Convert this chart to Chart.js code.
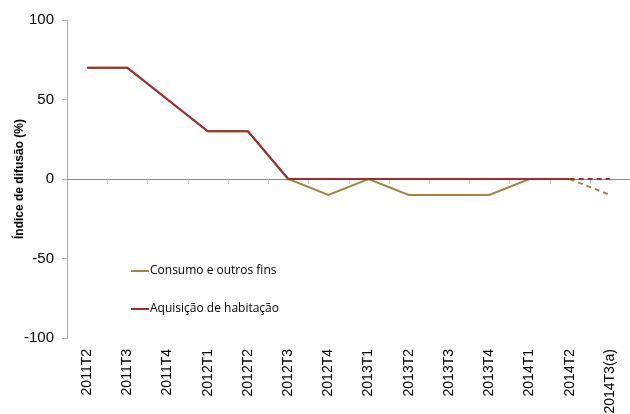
<!DOCTYPE html>
<html>
<head>
<meta charset="utf-8">
<script src="https://cdn.jsdelivr.net/npm/chart.js@4/dist/chart.umd.min.js"></script>
<style>
  html, body { margin: 0; padding: 0; background: #fff; }
  #wrap { width: 630px; height: 414px; position: relative; }
</style>
</head>
<body>
<div id="wrap"><canvas id="chart"></canvas></div>
<script>
// ---- data ----
const categories = ['2011T2', '2011T3', '2011T4', '2012T1', '2012T2', '2012T3', '2012T4',
    '2013T1', '2013T2', '2013T3', '2013T4', '2014T1', '2014T2', '2014T3(a)'];
const consumo = [70, 70, 50, 30, 30, 0, -10, 0, -10, -10, -10, 0, 0, -10];
const habitacao = [70, 70, 50, 30, 30, 0, 0, 0, 0, 0, 0, 0, 0, 0];
const yTicks = [-100, -50, 0, 50, 100];
const lastObserved = 12; // segments after this point are projections (dashed)

const redColor = '#A32A2D';
const goldColor = '#A9823F';
const axisColor = '#8c8c8c';

// dashed for projected segment
const dashProjected = ctx => ctx.p0DataIndex >= lastObserved ? [5, 4] : undefined;

// zero line with category ticks + legend inside the plot
const extras = {
    id: 'extras',
    beforeDatasetsDraw(chart) {
        const { ctx, chartArea } = chart;
        const x = chart.scales.x;
        const y0 = chart.scales.y.getPixelForValue(0);
        ctx.save();
        ctx.strokeStyle = axisColor;
        ctx.lineWidth = 1;
        ctx.beginPath();
        ctx.moveTo(chartArea.left, Math.round(y0) + 0.5);
        ctx.lineTo(chartArea.right, Math.round(y0) + 0.5);
        ctx.stroke();
        ctx.strokeStyle = '#c8c8c8';
        const step = x.getPixelForValue(1) - x.getPixelForValue(0);
        for (let i = 0; i < categories.length; i++) {
            const px = Math.round(x.getPixelForValue(i) + step / 2) + 0.5;
            ctx.beginPath();
            ctx.moveTo(px, y0);
            ctx.lineTo(px, y0 + 5);
            ctx.stroke();
        }
        ctx.restore();
    },
    afterDraw(chart) {
        const { ctx, chartArea } = chart;
        const items = [
            { label: 'Consumo e outros fins', color: goldColor },
            { label: 'Aquisição de habitação', color: redColor }
        ];
        ctx.save();
        ctx.font = '12px "Open Sans"';
        ctx.textBaseline = 'middle';
        items.forEach((it, i) => {
            const ly = chartArea.top + 251 + i * 38;
            const lx = chartArea.left + 64;
            ctx.strokeStyle = it.color;
            ctx.lineWidth = 2;
            ctx.beginPath();
            ctx.moveTo(lx, ly);
            ctx.lineTo(lx + 18, ly);
            ctx.stroke();
            ctx.fillStyle = '#000';
            ctx.fillText(it.label, lx + 19, ly);
        });
        ctx.restore();
    }
};

new Chart(document.getElementById('chart'), {
    type: 'line',
    data: {
        labels: categories,
        datasets: [
            {
                label: 'Aquisição de habitação',
                data: habitacao,
                borderColor: redColor,
                borderWidth: 2,
                pointRadius: 0,
                tension: 0,
                segment: { borderDash: dashProjected }
            },
            {
                label: 'Consumo e outros fins',
                data: consumo,
                borderColor: goldColor,
                borderWidth: 2,
                pointRadius: 0,
                tension: 0,
                segment: { borderDash: dashProjected }
            }
        ]
    },
    options: {
        responsive: true,
        maintainAspectRatio: false,
        animation: false,
        layout: { padding: { top: 20, right: 0, left: 0, bottom: 0 } },
        plugins: {
            legend: { display: false },
            tooltip: { enabled: false }
        },
        scales: {
            x: {
                offset: true,
                grid: { display: false },
                border: { display: false },
                ticks: {
                    minRotation: 90,
                    maxRotation: 90,
                    autoSkip: false,
                    padding: 3,
                    color: '#000',
                    font: { family: 'Liberation Sans', size: 14 }
                },
                afterFit(scale) {
                    scale.height = 76;
                    scale.paddingLeft = 0;
                    scale.paddingRight = 0;
                }
            },
            y: {
                min: -100,
                max: 100,
                afterBuildTicks(scale) { scale.ticks = yTicks.map(v => ({ value: v })); },
                grid: {
                    drawOnChartArea: false,
                    drawTicks: true,
                    tickLength: 5,
                    color: '#b0b0b0'
                },
                border: { display: true, color: '#b0b0b0' },
                ticks: {
                    padding: 8,
                    color: '#000',
                    font: { family: 'Liberation Sans', size: 15 }
                },
                title: {
                    display: true,
                    text: 'Índice de difusão (%)',
                    color: '#000',
                    padding: { top: 12, bottom: 0 },
                    font: { family: 'Liberation Sans', size: 12, weight: 'bold' }
                },
                afterFit(scale) { scale.width = 67; }
            }
        }
    },
    plugins: [extras]
});
</script>
</body>
</html>
